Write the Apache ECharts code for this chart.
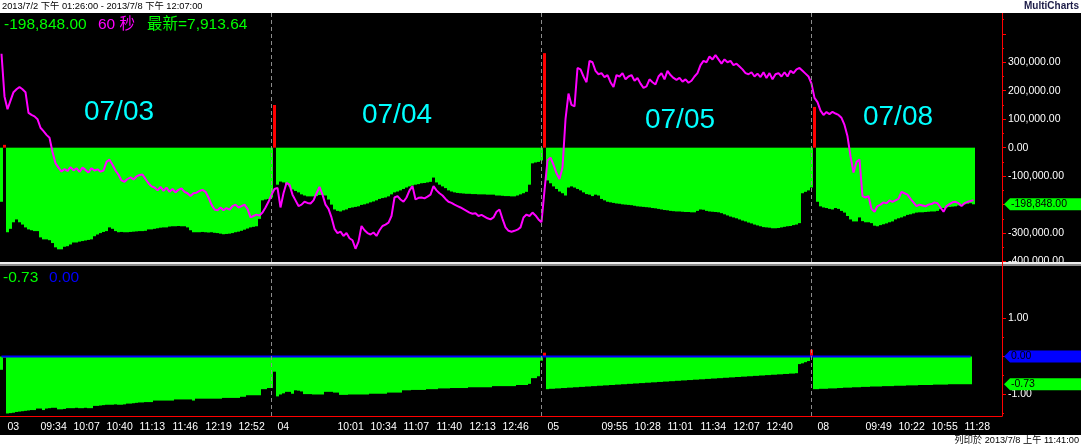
<!DOCTYPE html>
<html><head><meta charset="utf-8">
<script src="https://cdn.jsdelivr.net/npm/echarts@6/dist/echarts.min.js"></script>
<style>html,body{margin:0;padding:0;background:#fff}#c{width:1081px;height:445px}</style>
</head><body><div id="c"></div>
<script>
// ---- sessions (3-minute bars) ----
const dayNames = ['07/02', '07/03', '07/04', '07/05', '07/08'];
const dayFirstBar = ['13:28', '09:01', '09:01', '09:01', '09:01'];
const dayBarCount = [1, 90, 90, 90, 63];
const barMinutes = 3;

// ---- x tick labels shown ----
const xTickLabels = ['03','09:34','10:07','10:40','11:13','11:46','12:19','12:52',
  '04','10:01','10:34','11:07','11:40','12:13','12:46',
  '05','09:55','10:28','11:01','11:34','12:07','12:40',
  '08','09:49','10:22','10:55','11:28'];

// ---- upper histogram (thousands) ----
const upperHistK = [
-190,10,-297,-285,-262,-252,-262,-270,-280,-287,
-290,-293,-293,-315,-322,-322,-325,-335,-350,-357,
-357,-348,-346,-340,-333,-333,-330,-328,-326,-324,
-322,-311,-305,-300,-296,-293,-280,-285,-293,-297,
-296,-297,-297,-296,-295,-294,-293,-293,-292,-287,
-287,-285,-283,-281,-280,-280,-277,-276,-276,-275,
-276,-276,-280,-290,-297,-297,-297,-296,-297,-298,
-297,-299,-300,-302,-304,-303,-302,-300,-297,-295,
-292,-288,-284,-280,-278,-276,-250,-185,-182,-180,
-175,
150,-130,-119,-122,-130,-136,-147,-152,-157,
-164,-168,-171,-171,-171,-170,-166,-166,-168,-182,
-200,-217,-222,-224,-220,-217,-212,-210,-208,-206,
-201,-199,-196,-192,-189,-185,-180,-177,-175,-171,
-164,-157,-154,-150,-145,-140,-136,-133,-130,-128,
-125,-124,-122,-120,-105,-122,-130,-136,-142,-150,
-154,-157,-159,-160,-161,-162,-162,-163,-163,-164,
-164,-164,-165,-165,-165,-168,-168,-169,-170,-170,
-171,-171,-168,-164,-160,-155,-130,-55,-52,-50,
-45,
332,-115,-125,-136,-145,-154,-160,-168,-140,
-136,-140,-145,-150,-157,-163,-165,-170,-165,-168,
-180,-185,-190,-192,-194,-196,-197,-199,-200,-201,
-202,-204,-206,-207,-208,-209,-210,-212,-213,-215,
-217,-219,-220,-222,-223,-224,-224,-225,-226,-226,
-227,-227,-222,-217,-218,-222,-224,-225,-226,-227,
-230,-234,-238,-242,-245,-248,-252,-256,-259,-263,
-266,-270,-273,-276,-279,-280,-281,-283,-283,-282,
-280,-278,-276,-275,-272,-270,-265,-160,-155,-150,
-140,
143,-190,-206,-210,-212,-215,-217,-212,-215,
-222,-228,-240,-252,-259,-259,-245,-258,-262,-262,
-265,-274,-276,-272,-269,-266,-262,-259,-252,-248,
-245,-241,-236,-234,-231,-228,-227,-227,-226,-225,
-224,-224,-222,-216,-212,-210,-208,-207,-206,-203,
-200,-199,-197,-195,-198.848
];

// ---- magenta line (same scale, thousands) ----
const magentaK = [
330,180,135,165,195,205,213,205,195,122,
115,110,100,70,58,45,35,-15,-55,-70,
-84,-75,-82,-68,-80,-72,-85,-70,-78,-87,
-72,-80,-76,-84,-80,-50,-42,-60,-80,-95,
-115,-120,-110,-104,-112,-101,-96,-94,-110,-125,
-136,-140,-150,-138,-152,-140,-155,-145,-157,-148,
-143,-155,-160,-170,-160,-158,-152,-148,-155,-175,
-200,-217,-220,-210,-220,-212,-218,-205,-200,-210,
-205,-200,-215,-245,-240,-235,-238,-228,-210,-190,
-165,
-145,-141,-210,-160,-124,-130,-165,-185,-205,
-200,-190,-194,-196,-185,-160,-138,-165,-200,-215,
-245,-285,-300,-295,-310,-300,-318,-325,-355,-330,
-275,-290,-300,-305,-298,-310,-290,-275,-270,-263,
-240,-175,-170,-182,-190,-175,-150,-135,-182,-176,
-175,-178,-172,-165,-135,-150,-160,-168,-180,-190,
-194,-200,-205,-210,-216,-222,-228,-232,-230,-240,
-236,-242,-248,-252,-245,-225,-217,-250,-280,-292,
-295,-292,-288,-280,-245,-235,-240,-228,-238,-252,
-262,
-150,-45,-35,-60,-90,-110,-70,100,190,
150,145,280,275,250,230,305,300,270,258,
262,248,255,230,213,255,250,262,240,250,
255,235,245,225,210,215,240,230,222,250,
262,240,270,255,245,238,245,232,240,228,
235,250,262,290,305,300,320,310,325,310,
295,310,300,305,290,295,285,275,262,258,
265,250,260,248,265,245,262,240,258,262,
250,265,250,270,262,275,280,270,260,250,
225,
175,160,130,115,125,118,126,120,115,
105,80,40,-30,-87,-50,-42,-170,-175,-170,
-215,-225,-205,-200,-192,-195,-185,-190,-185,-180,
-155,-160,-165,-180,-192,-205,-200,-203,-206,-200,
-198,-192,-195,-210,-225,-205,-198,-192,-190,-195,
-205,-195,-190,-187,-185
];

// ---- lower histogram ----
const lowerHist = [
-0.35,-0.03,-1.50,-1.49,-1.48,-1.46,-1.45,-1.44,-1.43,-1.42,
-1.41,-1.41,-1.37,-1.37,-1.41,-1.37,-1.36,-1.35,-1.35,-1.39,
-1.39,-1.38,-1.36,-1.36,-1.36,-1.35,-1.36,-1.36,-1.35,-1.36,
-1.36,-1.30,-1.30,-1.29,-1.28,-1.27,-1.27,-1.27,-1.26,-1.27,
-1.27,-1.26,-1.24,-1.24,-1.23,-1.22,-1.21,-1.21,-1.20,-1.20,
-1.20,-1.16,-1.16,-1.16,-1.16,-1.16,-1.16,-1.16,-1.13,-1.13,
-1.13,-1.13,-1.13,-1.13,-1.16,-1.11,-1.11,-1.11,-1.11,-1.11,
-1.11,-1.11,-1.11,-1.11,-1.09,-1.09,-1.09,-1.09,-1.09,-1.09,
-1.06,-1.06,-1.02,-1.02,-1.02,-1.02,-1.02,-0.86,-0.86,-0.83,
-0.83,
-0.40,-1.05,-1.00,-0.97,-0.93,-0.93,-0.98,-0.89,-0.90,
-0.92,-0.99,-0.99,-0.99,-1.00,-1.00,-1.00,-1.00,-0.93,-0.93,
-0.93,-0.95,-0.95,-1.01,-1.01,-1.01,-1.00,-1.00,-1.00,-1.00,
-1.00,-1.00,-1.00,-0.98,-0.98,-0.98,-0.98,-0.98,-0.98,-0.95,
-0.95,-0.95,-0.95,-0.95,-0.89,-0.89,-0.89,-0.88,-0.88,-0.88,
-0.88,-0.88,-0.86,-0.86,-0.86,-0.86,-0.84,-0.84,-0.84,-0.84,
-0.83,-0.83,-0.83,-0.83,-0.83,-0.83,-0.81,-0.81,-0.81,-0.81,
-0.81,-0.81,-0.81,-0.81,-0.78,-0.78,-0.78,-0.78,-0.78,-0.78,
-0.78,-0.78,-0.75,-0.75,-0.75,-0.75,-0.72,-0.57,-0.57,-0.52,
-0.11,
0.10,-0.86,-0.85,-0.85,-0.84,-0.84,-0.83,-0.83,-0.82,
-0.82,-0.81,-0.81,-0.80,-0.80,-0.79,-0.79,-0.78,-0.78,-0.77,
-0.77,-0.76,-0.76,-0.75,-0.75,-0.74,-0.74,-0.73,-0.73,-0.72,
-0.72,-0.71,-0.71,-0.70,-0.70,-0.69,-0.69,-0.68,-0.68,-0.67,
-0.67,-0.66,-0.66,-0.65,-0.65,-0.64,-0.64,-0.63,-0.63,-0.62,
-0.62,-0.61,-0.61,-0.60,-0.60,-0.59,-0.59,-0.58,-0.58,-0.57,
-0.57,-0.56,-0.56,-0.55,-0.55,-0.54,-0.54,-0.53,-0.53,-0.52,
-0.52,-0.51,-0.51,-0.50,-0.50,-0.49,-0.49,-0.48,-0.48,-0.47,
-0.47,-0.46,-0.46,-0.45,-0.45,-0.44,-0.20,-0.18,-0.15,-0.12,
0.18,-0.86,-0.86,-0.85,-0.85,-0.85,-0.84,-0.84,-0.84,
-0.83,-0.83,-0.82,-0.82,-0.82,-0.81,-0.81,-0.81,-0.80,-0.80,
-0.80,-0.79,-0.79,-0.79,-0.79,-0.78,-0.78,-0.78,-0.78,-0.77,
-0.77,-0.77,-0.77,-0.76,-0.76,-0.76,-0.76,-0.75,-0.75,-0.75,
-0.75,-0.75,-0.74,-0.74,-0.74,-0.74,-0.74,-0.73,-0.73,-0.73,
-0.73,-0.73,-0.73,-0.73,-0.73
];
const zeroLine = lowerHist.map(() => 0.00);

// ---- axis tick values ----
const upperMajorTicks = [-400, -300, -200, -100, 0, 100, 200, 300, 400];
const upperMinorTicks = [-350, -250, -150, -50, 50, 150, 250, 350, 450];
const upperLabels = [-400, -300, -200, -100, 0, 100, 200, 300];
const lowerMajorTicks = [-1, 0, 1];
const lowerMinorTicks = [-1.5, -0.5, 0.5];
const lowerLabels = [-1, 0, 1];

// ---- build categories ----
const categories = [];
const dayStartIdx = [];
dayNames.forEach((d, di) => {
  const [h, m] = dayFirstBar[di].split(':').map(Number);
  const t0 = h * 60 + m;
  if (di > 0) dayStartIdx.push(categories.length);
  for (let k = 0; k < dayBarCount[di]; k++) {
    const t = t0 + k * barMinutes;
    categories.push(d + ' ' + String(Math.floor(t / 60)).padStart(2, '0') + ':' + String(t % 60).padStart(2, '0'));
  }
});
const labelKeys = new Set();
let curDay = '';
xTickLabels.forEach(l => {
  if (l.length === 2) { curDay = '07/' + l; labelKeys.add(curDay + ' 09:01'); }
  else labelKeys.add(curDay + ' ' + l);
});
const tickIdx = new Set(dayStartIdx);
for (let i = 1; i < categories.length; i += 11) tickIdx.add(i);
const sepCats = dayStartIdx.slice(1).map(i => categories[i - 1]);

const FONT = "'Liberation Sans', Arial, 'Noto Sans CJK TC', sans-serif";
const fmtNum = v => Number(v).toLocaleString('en-US', {minimumFractionDigits: 2, maximumFractionDigits: 2});
const posNeg = p => (p.value >= 0 ? '#ff0000' : '#00ff00');
const sepLine = {
  silent: true, symbol: 'none', label: {show: false},
  lineStyle: {color: '#8c8c8c', type: [4, 3], width: 1},
  data: sepCats.map(c => ({xAxis: c}))
};

const chart = echarts.init(document.getElementById('c'));
const option = {
  animation: false,
  backgroundColor: '#000',
  textStyle: {fontFamily: FONT},
  grid: [
    {left: 0, right: 79, top: 13, height: 249},
    {left: 0, right: 79, top: 267, height: 149}
  ],
  xAxis: [
    {type: 'category', gridIndex: 0, data: categories, show: false, boundaryGap: true, axisLine: {onZero: false}},
    {type: 'category', gridIndex: 1, data: categories, boundaryGap: true, position: 'bottom',
     axisLine: {onZero: false, lineStyle: {color: '#ff0000', width: 1}},
     axisTick: {alignWithLabel: true, length: 3, lineStyle: {color: '#ff0000'}, interval: (i) => tickIdx.has(i)},
     axisLabel: {color: '#ffffff', fontSize: 10.5, fontFamily: FONT, margin: 6, align: 'left', padding: [0, 0, 0, 3],
       interval: (i, v) => labelKeys.has(v),
       formatter: v => v.endsWith('09:01') ? v.slice(3, 5) : v.slice(6)}}
  ],
  yAxis: [
    {type: 'value', gridIndex: 0, position: 'right', min: -401.5, max: 473,
     axisLine: {show: true, onZero: false, lineStyle: {color: '#ff0000', width: 1}},
     axisTick: {show: true, length: 4, lineStyle: {color: '#ff0000'}, customValues: upperMajorTicks},
     axisLabel: {color: '#ffffff', fontSize: 10.5, fontFamily: FONT, margin: 6, customValues: upperLabels,
       formatter: v => fmtNum(v * 1000)},
     splitLine: {show: false}},
    {type: 'value', gridIndex: 0, position: 'right', min: -401.5, max: 473,
     axisLine: {show: false, onZero: false}, axisLabel: {show: false}, splitLine: {show: false},
     axisTick: {show: true, length: 2, lineStyle: {color: '#ff0000'}, customValues: upperMinorTicks}},
    {type: 'value', gridIndex: 1, position: 'right', min: -1.566, max: 2.355,
     axisLine: {show: true, onZero: false, lineStyle: {color: '#ff0000', width: 1}},
     axisTick: {show: true, length: 4, lineStyle: {color: '#ff0000'}, customValues: lowerMajorTicks},
     axisLabel: {color: '#ffffff', fontSize: 10.5, fontFamily: FONT, margin: 6, customValues: lowerLabels,
       formatter: v => Number(v).toFixed(2)},
     splitLine: {show: false}},
    {type: 'value', gridIndex: 1, position: 'right', min: -1.566, max: 2.355,
     axisLine: {show: false, onZero: false}, axisLabel: {show: false}, splitLine: {show: false},
     axisTick: {show: true, length: 2, lineStyle: {color: '#ff0000'}, customValues: lowerMinorTicks}}
  ],
  series: [
    {name: 'hist', type: 'bar', xAxisIndex: 0, yAxisIndex: 0, data: upperHistK,
     barCategoryGap: '0%', itemStyle: {color: posNeg}, markLine: sepLine, z: 2},
    {name: 'price', type: 'line', xAxisIndex: 0, yAxisIndex: 0, data: magentaK, symbol: 'none',
     lineStyle: {color: '#ff00ff', width: 2}, z: 4},
    {name: 'osc', type: 'bar', xAxisIndex: 1, yAxisIndex: 2, data: lowerHist,
     barCategoryGap: '0%', itemStyle: {color: posNeg}, markLine: sepLine, z: 2},
    {name: 'zero', type: 'line', xAxisIndex: 1, yAxisIndex: 2, data: zeroLine, symbol: 'none',
     lineStyle: {color: '#0000ff', width: 2}, z: 4}
  ]
};
chart.setOption(option);

const yU = chart.convertToPixel({yAxisIndex: 0}, upperHistK[upperHistK.length - 1]);
const yZ = chart.convertToPixel({yAxisIndex: 2}, 0);
const yL = chart.convertToPixel({yAxisIndex: 2}, lowerHist[lowerHist.length - 1]);
const tag = (yc, fill, txt, txtFill) => ([
  {type: 'polygon', z: 200, shape: {points: [[1004, yc], [1010, yc - 6], [1081, yc - 6], [1081, yc + 6], [1010, yc + 6]]}, style: {fill: fill}},
  {type: 'text', z: 201, x: 1011, y: yc, style: {text: txt, fill: txtFill, font: '10.5px ' + FONT, verticalAlign: 'middle'}}
]);
const T = (x, y, text, fill, size, extra) => Object.assign({type: 'text', z: 150, x: x, y: y,
  style: Object.assign({text: text, fill: fill, font: size + 'px ' + FONT, verticalAlign: 'middle'}, extra || {})});

chart.setOption({graphic: {elements: [
  {type: 'rect', z: 100, shape: {x: 0, y: 0, width: 1081, height: 13}, style: {fill: '#ffffff'}},
  {type: 'rect', z: 100, shape: {x: 0, y: 435, width: 1081, height: 10}, style: {fill: '#ffffff'}},
  T(2, 6.5, '2013/7/2 下午 01:26:00 - 2013/7/8 下午 12:07:00', '#000000', 9.3),
  T(1079, 6.5, 'MultiCharts', '#1c1c48', 10, {align: 'right', font: 'bold 10px ' + FONT}),
  T(1079, 440, '列印於 2013/7/8 上午 11:41:00', '#000000', 9.2, {align: 'right'}),
  T(4, 25, '-198,848.00', '#00ff00', 15.5),
  T(98, 25, '60 秒', '#ff00ff', 15.5),
  T(147, 25, '最新=7,913.64', '#00ff00', 15.5),
  T(3, 277.5, '-0.73', '#00ff00', 15.5),
  T(49, 277.5, '0.00', '#0000ff', 15.5),
  T(119, 112, '07/03', '#00ffff', 28, {align: 'center'}),
  T(397, 115, '07/04', '#00ffff', 28, {align: 'center'}),
  T(680, 120, '07/05', '#00ffff', 28, {align: 'center'}),
  T(898, 117, '07/08', '#00ffff', 28, {align: 'center'}),
  {type: 'rect', z: 120, shape: {x: 1003, y: 266, width: 78, height: 3}, style: {fill: '#000000'}},
  {type: 'rect', z: 130, shape: {x: 0, y: 262, width: 1081, height: 2}, style: {fill: '#eeeeee'}},
  {type: 'rect', z: 130, shape: {x: 0, y: 264, width: 1081, height: 2}, style: {fill: '#8a8a8a'}},
  {type: 'line', z: 131, shape: {x1: 1002.5, y1: 261, x2: 1002.5, y2: 268}, style: {stroke: '#ff0000', lineWidth: 1}}
].concat(tag(yU, '#00ff00', '-198,848.00', '#000000'))
 .concat(tag(yZ, '#0000ff', '0.00', '#000000'))
 .concat(tag(yL, '#00ff00', '-0.73', '#000000'))}});
</script>
</body></html>
